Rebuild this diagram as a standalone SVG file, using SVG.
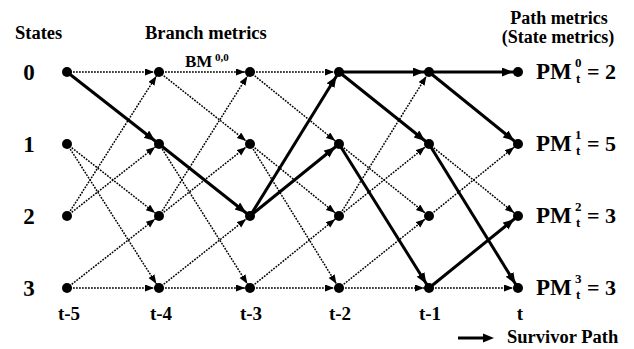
<svg xmlns="http://www.w3.org/2000/svg" width="634" height="349" viewBox="0 0 634 349">
<style>
text{font-family:"Liberation Serif","Times New Roman",serif;font-weight:bold;fill:#000}
.hd{font-size:18.5px}
.ph{font-size:18px;text-anchor:middle}
.st{font-size:23px}
.tl{font-size:19px;text-anchor:middle}
.pm{font-size:23px}
.eq{font-size:22px}
.sm{font-size:13px}
.d{stroke:#000;stroke-width:1.5;stroke-dasharray:1.8 1.2;fill:none;marker-end:url(#ah)}
.b{stroke:#000;stroke-width:3;fill:none;marker-end:url(#bh)}
circle{fill:#000}
</style>
<defs>
<marker id="ah" markerUnits="userSpaceOnUse" markerWidth="20" markerHeight="10" refX="14" refY="3.5" orient="auto"><path d="M0,0 L9,3.5 L0,7 z" fill="#000"/></marker>
<marker id="bh" markerUnits="userSpaceOnUse" markerWidth="20" markerHeight="10" refX="16" refY="4.5" orient="auto"><path d="M0,0 L11,4.5 L0,9 z" fill="#000"/></marker>
</defs>
<rect width="634" height="349" fill="#fff"/>
<g id="headers">
<text class="hd" x="15" y="39">States</text>
<text class="hd" x="145" y="39">Branch metrics</text>
<text class="ph" x="559" y="24">Path metrics</text>
<text class="ph" x="558" y="43">(State metrics)</text>
<text x="185" y="67" font-size="17">BM</text>
<text x="215" y="61" font-size="11">0,0</text>
</g>
<g id="state-labels">
<text class="st" x="29" y="80" text-anchor="middle">0</text>
<text class="st" x="29" y="152" text-anchor="middle">1</text>
<text class="st" x="29" y="224" text-anchor="middle">2</text>
<text class="st" x="29" y="296" text-anchor="middle">3</text>
</g>
<g id="time-labels">
<text class="tl" x="69" y="320">t-5</text>
<text class="tl" x="161" y="320">t-4</text>
<text class="tl" x="251" y="320">t-3</text>
<text class="tl" x="340" y="320">t-2</text>
<text class="tl" x="430" y="320">t-1</text>
<text class="tl" x="520" y="320">t</text>
</g>
<g id="connectors">
<line class="d" x1="67" y1="72" x2="159" y2="72"/>
<line class="d" x1="67" y1="144" x2="159" y2="216"/>
<line class="d" x1="67" y1="144" x2="159" y2="288"/>
<line class="d" x1="67" y1="216" x2="159" y2="72"/>
<line class="d" x1="67" y1="216" x2="159" y2="144"/>
<line class="d" x1="67" y1="288" x2="159" y2="216"/>
<line class="d" x1="67" y1="288" x2="159" y2="288"/>
<line class="d" x1="159" y1="72" x2="250" y2="72"/>
<line class="d" x1="159" y1="72" x2="250" y2="144"/>
<line class="d" x1="159" y1="144" x2="250" y2="288"/>
<line class="d" x1="159" y1="216" x2="250" y2="72"/>
<line class="d" x1="159" y1="216" x2="250" y2="144"/>
<line class="d" x1="159" y1="288" x2="250" y2="216"/>
<line class="d" x1="159" y1="288" x2="250" y2="288"/>
<line class="d" x1="250" y1="72" x2="339" y2="72"/>
<line class="d" x1="250" y1="72" x2="339" y2="144"/>
<line class="d" x1="250" y1="144" x2="339" y2="216"/>
<line class="d" x1="250" y1="144" x2="339" y2="288"/>
<line class="d" x1="250" y1="288" x2="339" y2="216"/>
<line class="d" x1="250" y1="288" x2="339" y2="288"/>
<line class="d" x1="339" y1="144" x2="429" y2="216"/>
<line class="d" x1="339" y1="216" x2="429" y2="72"/>
<line class="d" x1="339" y1="216" x2="429" y2="144"/>
<line class="d" x1="339" y1="288" x2="429" y2="216"/>
<line class="d" x1="339" y1="288" x2="429" y2="288"/>
<line class="d" x1="429" y1="144" x2="518" y2="216"/>
<line class="d" x1="429" y1="216" x2="518" y2="144"/>
<line class="d" x1="429" y1="288" x2="518" y2="288"/>
<line class="b" x1="67" y1="72" x2="159" y2="144"/>
<line class="b" x1="159" y1="144" x2="250" y2="216"/>
<line class="b" x1="250" y1="216" x2="339" y2="72"/>
<line class="b" x1="250" y1="216" x2="339" y2="144"/>
<line class="b" x1="339" y1="72" x2="429" y2="72"/>
<line class="b" x1="339" y1="72" x2="429" y2="144"/>
<line class="b" x1="339" y1="144" x2="429" y2="288"/>
<line class="b" x1="429" y1="72" x2="518" y2="72"/>
<line class="b" x1="429" y1="72" x2="518" y2="144"/>
<line class="b" x1="429" y1="144" x2="518" y2="288"/>
<line class="b" x1="429" y1="288" x2="518" y2="216"/>
</g>
<g id="n-t5-0"><circle cx="67" cy="72" r="5"/></g>
<g id="n-t5-1"><circle cx="67" cy="144" r="5"/></g>
<g id="n-t5-2"><circle cx="67" cy="216" r="5"/></g>
<g id="n-t5-3"><circle cx="67" cy="288" r="5"/></g>
<g id="n-t4-0"><circle cx="159" cy="72" r="5"/></g>
<g id="n-t4-1"><circle cx="159" cy="144" r="5"/></g>
<g id="n-t4-2"><circle cx="159" cy="216" r="5"/></g>
<g id="n-t4-3"><circle cx="159" cy="288" r="5"/></g>
<g id="n-t3-0"><circle cx="250" cy="72" r="5"/></g>
<g id="n-t3-1"><circle cx="250" cy="144" r="5"/></g>
<g id="n-t3-2"><circle cx="250" cy="216" r="5"/></g>
<g id="n-t3-3"><circle cx="250" cy="288" r="5"/></g>
<g id="n-t2-0"><circle cx="339" cy="72" r="5"/></g>
<g id="n-t2-1"><circle cx="339" cy="144" r="5"/></g>
<g id="n-t2-2"><circle cx="339" cy="216" r="5"/></g>
<g id="n-t2-3"><circle cx="339" cy="288" r="5"/></g>
<g id="n-t1-0"><circle cx="429" cy="72" r="5"/></g>
<g id="n-t1-1"><circle cx="429" cy="144" r="5"/></g>
<g id="n-t1-2"><circle cx="429" cy="216" r="5"/></g>
<g id="n-t1-3"><circle cx="429" cy="288" r="5"/></g>
<g id="n-t-0"><circle cx="518" cy="72" r="5"/>
<text class="pm" x="536" y="79">PM</text><text class="sm" x="575" y="67">0</text><text class="sm" x="576" y="83">t</text><text class="eq" x="587" y="79">= 2</text></g>
<g id="n-t-1"><circle cx="518" cy="144" r="5"/>
<text class="pm" x="536" y="151">PM</text><text class="sm" x="575" y="139">1</text><text class="sm" x="576" y="155">t</text><text class="eq" x="587" y="151">= 5</text></g>
<g id="n-t-2"><circle cx="518" cy="216" r="5"/>
<text class="pm" x="536" y="223">PM</text><text class="sm" x="575" y="211">2</text><text class="sm" x="576" y="227">t</text><text class="eq" x="587" y="223">= 3</text></g>
<g id="n-t-3"><circle cx="518" cy="288" r="5"/>
<text class="pm" x="536" y="295">PM</text><text class="sm" x="575" y="283">3</text><text class="sm" x="576" y="299">t</text><text class="eq" x="587" y="295">= 3</text></g>
<g id="legend">
<line x1="458" y1="338" x2="486" y2="338" stroke="#000" stroke-width="3"/>
<polygon points="483,333.5 494,338 483,342.5" fill="#000"/>
<text class="hd" x="507" y="343">Survivor Path</text>
</g>
</svg>
